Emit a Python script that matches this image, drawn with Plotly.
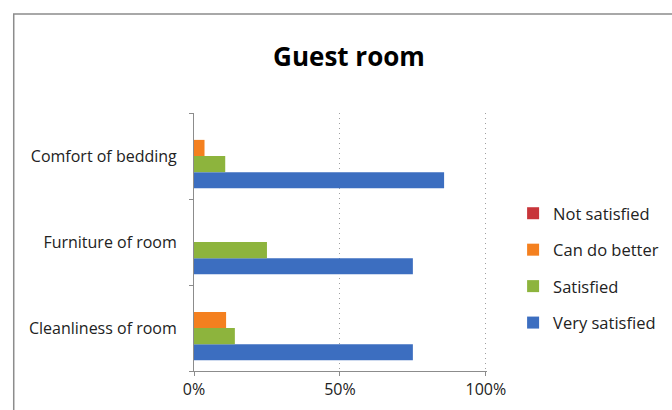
import plotly.graph_objects as go

categories = ["Cleanliness of room", "Furniture of room", "Comfort of bedding"]
very_satisfied = [75, 75, 85.7]
satisfied = [14, 25, 10.7]
can_do_better = [11, 0, 3.6]
not_satisfied = [0, 0, 0]

series = [
    ("Very satisfied", very_satisfied, "#3C6EC0", 4),
    ("Satisfied", satisfied, "#8DB43D", 3),
    ("Can do better", can_do_better, "#F4801F", 2),
    ("Not satisfied", not_satisfied, "#C8353A", 1),
]

XMAX = 100.4
L, T, B = 193.5, 113, 371
R = L + 292.2 * XMAX / 100
W, H = 672, 410
pw, ph = R - L, B - T

fig = go.Figure()
for name, vals, col, rank in series:
    fig.add_trace(go.Bar(
        y=categories, x=vals, name=name, orientation="h",
        marker=dict(color=col, line=dict(width=0)),
        legendgroup=name, legendrank=rank,
    ))

font = "Open Sans"
fig.update_layout(
    width=W, height=H,
    margin=dict(l=L, r=W - R, t=T, b=H - B, autoexpand=False),
    paper_bgcolor="white", plot_bgcolor="white",
    barmode="group", bargap=0.25, bargroupgap=0,
    font=dict(family=font, size=16, color="#222"),
    title=dict(text="<b>Guest room</b>", x=349 / W, xanchor="center",
               y=1 - 57 / H, yanchor="middle",
               font=dict(family=font, size=26, color="black")),
    xaxis=dict(range=[0, XMAX], tickvals=[0, 50, 100],
               ticktext=["0%", "50%", "100%"],
               showgrid=True, gridcolor="#A0A0A0", griddash="1px,4px", gridwidth=1,
               showline=True, linecolor="#8C8C8C", linewidth=1,
               ticks="outside", ticklen=4, tickcolor="#8C8C8C",
               zeroline=False, fixedrange=True,
               tickfont=dict(family=font, size=16, color="#222")),
    yaxis=dict(type="category", categoryorder="array", categoryarray=categories,
               showline=True, linecolor="#8C8C8C", linewidth=1,
               ticks="outside", ticklen=4, tickcolor="#8C8C8C",
               tickson="boundaries", showgrid=False, ticklabelstandoff=13,
               tickfont=dict(family=font, size=16, color="#222")),
    legend=dict(x=(513 - L) / pw, xanchor="left", y=(B - 196) / ph, yanchor="top",
                traceorder="grouped", tracegroupgap=12,
                font=dict(family=font, size=16.5, color="#222"),
                bgcolor="rgba(0,0,0,0)"),
    showlegend=True,
)

fig.add_shape(type="rect", xref="paper", yref="paper",
              x0=(13 - L) / pw, x1=(700 - L) / pw,
              y0=(B - 440) / ph, y1=(B - 14) / ph,
              line=dict(color="#8C8C8C", width=1.5), fillcolor="rgba(0,0,0,0)",
              layer="below")

fig.write_html("out.html")
